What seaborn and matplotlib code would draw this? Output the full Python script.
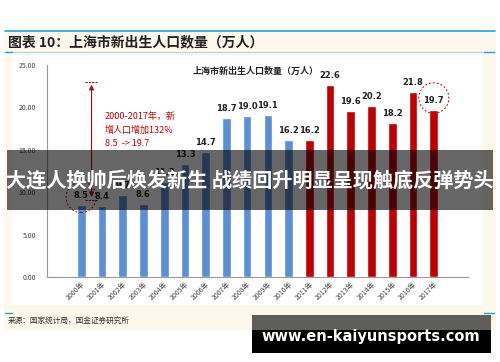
import numpy as np
import pandas as pd
import seaborn as sns
import matplotlib.pyplot as plt
from matplotlib.patches import Rectangle, Ellipse

# data
years = [f"{y}年" for y in range(2000, 2018)]
births = [8.5, 8.4, 9.7, 8.6, 11.2, 13.3, 14.7, 18.7, 19.0, 19.1,
          16.2, 16.2, 22.6, 19.6, 20.2, 18.2, 21.8, 19.7]
period = ["early"] * 11 + ["late"] * 7
yticks = [0, 5, 10, 15, 20, 25]

sns.set_theme(style="white")
plt.rcParams['font.family'] = ['Noto Sans CJK SC', 'DejaVu Sans']

df = pd.DataFrame({"year": years, "births": births, "period": period})

W, H = 500, 362
fig = plt.figure(figsize=(5, 3.62), dpi=100)
fig.patch.set_facecolor("white")

def px(x, y, w, h):
    return (x / W, 1 - (y + h) / H, w / W, h / H)

# background pieces
fig.patches.append(Rectangle(px(4, 31, 492, 299)[:2], 492 / W, 299 / H, transform=fig.transFigure,
                             facecolor="#fdf8ec", edgecolor="none", zorder=-2))
fig.patches.append(Rectangle(px(12, 55, 470, 250)[:2], 470 / W, 250 / H, transform=fig.transFigure,
                             facecolor="white", edgecolor="none", zorder=-1))
fig.add_artist(plt.Line2D([5 / W, 495 / W], [1 - 31 / H] * 2, color="#2a9fd6", lw=1.2))
fig.add_artist(plt.Line2D([5 / W, 495 / W], [1 - 52 / H] * 2, color="#a9d8ee", lw=0.8))
for x0, x1 in [(5, 12), (484, 494)]:
    fig.add_artist(plt.Line2D([x0 / W, x1 / W], [1 - 52 / H] * 2, color="#2a9fd6", lw=1.0))
    fig.add_artist(plt.Line2D([x0 / W, x1 / W], [1 - 313 / H] * 2, color="#2a9fd6", lw=1.0))

fig.text(8 / W, 1 - 42 / H, "图表 10：上海市新出生人口数量（万人）", fontsize=10,
         fontweight="bold", style="italic", color="#222222", va="center")
fig.text(8 / W, 1 - 322 / H, "来源：国家统计局，国金证券研究所", fontsize=5.5,
         color="#333333", va="center")

ax = fig.add_axes(px(47, 65, 421, 212))
ax.set_facecolor("none")
sns.barplot(data=df, x="year", y="births", hue="period",
            palette={"early": "#5b8fd6", "late": "#c00000"},
            width=0.42, dodge=False, legend=False, ax=ax, saturation=1)

ax.set_ylim(0, 25)
ax.set_yticks(yticks)
ax.set_yticklabels([f"{v:.2f}" for v in yticks], fontsize=5, color="#444444")
ax.set_xlabel("")
ax.set_ylabel("")
ax.tick_params(axis="x", labelsize=5, rotation=45, colors="#444444", length=0, pad=2)
ax.tick_params(axis="y", length=0, pad=8)
for lab in ax.get_xticklabels():
    lab.set_ha("right")
    lab.set_rotation_mode("anchor")
for s in ["top", "right"]:
    ax.spines[s].set_visible(False)
for s in ["left", "bottom"]:
    ax.spines[s].set_color("#999999")
    ax.spines[s].set_linewidth(0.8)

for i, v in enumerate(births):
    ax.text(i, v + 0.6, f"{v:.1f}", ha="center", va="bottom", fontsize=6,
            fontweight="bold", color="#222222", family="DejaVu Sans")

ax.text(8.4, 24.2, "上海市新出生人口数量（万人）", ha="center", va="center",
        fontsize=6.5, fontweight="bold", color="#222222")

# annotation
ax.annotate("", xy=(0.5, 23.0), xytext=(0.5, 9.1),
            arrowprops=dict(arrowstyle="<|-|>", color="#c00000", lw=0.8, mutation_scale=7))
for yy in (23.0, 9.1):
    ax.plot([0.2, 0.8], [yy, yy], color="#c00000", lw=0.8, ls=(0, (2, 1)))
ax.text(1.15, 19.4, "2000-2017年，新\n增人口增加132%\n8.5  -> 19.7", fontsize=6.5,
        color="#c00000", va="top", ha="left", linespacing=1.6)
ax.add_patch(Ellipse((0.0, 9.4), 1.45, 3.6, fill=False, ec="#c00000", ls=(0, (2, 2)), lw=0.7,
                     clip_on=False))
ax.add_patch(Ellipse((17.0, 21.1), 1.45, 3.6, fill=False, ec="#c00000", ls=(0, (2, 2)), lw=0.7,
                     clip_on=False))

# overlay banner and watermark
fig.patches.append(Rectangle(px(7, 150, 486, 60)[:2], 486 / W, 60 / H, transform=fig.transFigure,
                             facecolor="black", alpha=0.6, edgecolor="none", zorder=10))
fig.text(250 / W, 1 - 181 / H, "大连人换帅后焕发新生 战绩回升明显呈现触底反弹势头",
         ha="center", va="center", fontsize=14.5, fontweight="bold", color="white", zorder=11)
fig.patches.append(Rectangle(px(252, 315, 239, 15)[:2], 239 / W, 15 / H, transform=fig.transFigure,
                             facecolor="#5f5e5a", edgecolor="none", zorder=10))
fig.patches.append(Rectangle(px(252, 330, 239, 23)[:2], 239 / W, 23 / H, transform=fig.transFigure,
                             facecolor="black", edgecolor="none", zorder=10))
fig.text(371 / W, 1 - 336 / H, "www.en-kaiyunsports.com", ha="center", va="center",
         fontsize=10.5, fontweight="bold", color="white", family="DejaVu Sans", zorder=11)

fig.savefig("out.png", dpi=100)
